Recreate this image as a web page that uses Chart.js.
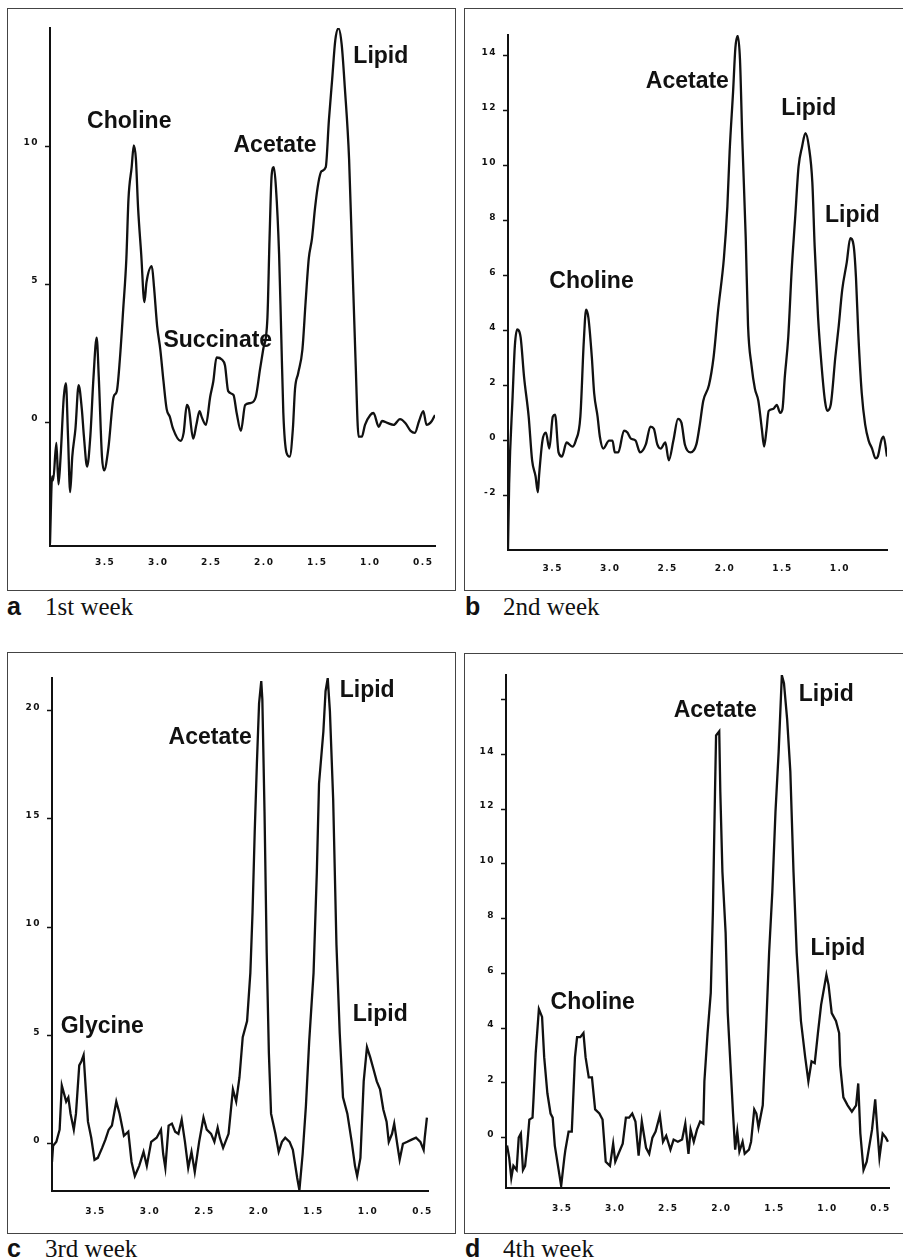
<!DOCTYPE html>
<html lang="en">
<head>
<meta charset="UTF-8" />
<title>Spectra by week</title>
<script src="https://cdn.jsdelivr.net/npm/chart.js"></script>
<style>
  body { margin: 0; background: #fff; width: 903px; height: 1260px; overflow: hidden; position: relative; }
  .box { position: absolute; border: 1px solid #444; box-sizing: border-box; }
  canvas { position: absolute; }
  .cap { position: absolute; font-family: "Liberation Serif", serif; font-size: 25px; line-height: 25px; color: #111; white-space: nowrap; }
  .cap b { font-family: "Liberation Sans", Arial, sans-serif; display: inline-block; width: 38px; }
</style>
</head>
<body>
  <div class="box" style="left:7px;top:8px;width:449px;height:583px"></div>
  <div class="box" style="left:464px;top:8px;width:445px;height:583px"></div>
  <div class="box" style="left:7px;top:652px;width:449px;height:582px"></div>
  <div class="box" style="left:464px;top:653px;width:445px;height:581px"></div>

  <canvas id="chartA" width="456" height="592" style="left:0;top:0"></canvas>
  <canvas id="chartB" width="447" height="592" style="left:456px;top:0"></canvas>
  <canvas id="chartC" width="456" height="600" style="left:0;top:630px"></canvas>
  <canvas id="chartD" width="447" height="600" style="left:456px;top:630px"></canvas>

  <div class="cap" style="left:7px;top:594px"><b>a</b>1st week</div>
  <div class="cap" style="left:465px;top:594px"><b>b</b>2nd week</div>
  <div class="cap" style="left:7px;top:1236px"><b>c</b>3rd week</div>
  <div class="cap" style="left:465px;top:1236px"><b>d</b>4th week</div>

<script>
// ppm (chemical shift) and signal values
const aPpm = [4.02,4.00,3.99,3.96,3.94,3.92,3.89,3.87,3.85,3.83,3.81,3.78,3.75,3.72,3.70,3.67,3.64,3.61,3.58,3.56,3.53,3.51,3.47,3.42,3.39,3.36,3.33,3.30,3.28,3.25,3.23,3.21,3.19,3.16,3.13,3.11,3.06,3.04,3.01,2.98,2.95,2.92,2.89,2.86,2.79,2.76,2.73,2.71,2.67,2.64,2.61,2.59,2.55,2.51,2.48,2.45,2.40,2.37,2.34,2.29,2.26,2.22,2.18,2.13,2.08,2.04,2.01,1.97,1.95,1.93,1.91,1.89,1.86,1.84,1.82,1.79,1.76,1.73,1.71,1.68,1.64,1.61,1.58,1.55,1.52,1.49,1.46,1.42,1.39,1.36,1.33,1.30,1.27,1.24,1.20,1.17,1.14,1.11,1.08,1.05,1.00,0.97,0.92,0.89,0.84,0.78,0.72,0.67,0.62,0.58,0.54,0.50,0.47,0.42,0.39];
const aVal = [-4.4,-1.97,-2.11,-0.75,-2.26,-1.25,0.91,1.41,-0.53,-2.54,-1.25,-0.24,1.34,0.47,-0.53,-1.61,-0.53,1.62,3.06,1.62,-1.25,-1.75,-0.96,0.91,1.12,2.34,4.07,5.93,8.09,9.24,10.03,9.53,7.80,6.08,4.35,5.07,5.65,4.93,3.49,2.63,1.48,0.47,0.19,-0.24,-0.68,-0.39,0.62,0.47,-0.60,-0.10,0.40,0.19,-0.10,0.91,1.48,2.34,2.27,2.05,1.12,0.98,0.33,-0.32,0.62,0.69,0.91,1.91,2.63,3.78,6.65,8.95,9.24,8.52,6.08,3.20,0.33,-1.11,-1.25,-0.24,1.19,1.77,2.63,4.35,5.93,6.65,7.80,8.66,9.09,9.24,10.96,12.40,13.84,14.27,13.69,12.11,9.53,5.93,2.34,-0.53,-0.53,-0.10,0.26,0.33,-0.17,0.04,-0.03,-0.10,0.11,-0.03,-0.32,-0.39,0.04,0.40,-0.10,0.04,0.26];

const bPpm = [3.89,3.88,3.85,3.83,3.81,3.78,3.75,3.71,3.68,3.65,3.63,3.62,3.59,3.56,3.53,3.50,3.48,3.45,3.42,3.38,3.33,3.30,3.26,3.23,3.21,3.19,3.16,3.14,3.11,3.09,3.06,3.01,2.98,2.96,2.93,2.88,2.85,2.82,2.78,2.74,2.69,2.65,2.62,2.59,2.56,2.52,2.49,2.45,2.41,2.38,2.35,2.30,2.25,2.22,2.19,2.14,2.10,2.06,2.01,1.98,1.96,1.93,1.91,1.89,1.87,1.85,1.82,1.80,1.77,1.74,1.71,1.68,1.66,1.64,1.62,1.58,1.55,1.52,1.50,1.48,1.45,1.42,1.39,1.36,1.33,1.30,1.27,1.24,1.22,1.19,1.16,1.13,1.11,1.08,1.04,1.01,0.98,0.94,0.91,0.88,0.86,0.84,0.81,0.78,0.75,0.72,0.69,0.67,0.64,0.62,0.59];
const bVal = [-3.97,-1.59,1.59,3.46,4.04,3.75,2.31,0.87,-0.72,-1.30,-1.88,-1.30,0.00,0.29,-0.29,0.87,0.94,-0.43,-0.58,-0.07,-0.22,0.00,0.87,3.61,4.76,4.47,3.03,1.73,0.87,0.14,-0.29,0.00,0.00,-0.43,-0.43,0.36,0.29,0.07,0.00,-0.43,-0.14,0.51,0.43,-0.14,-0.29,-0.07,-0.72,0.00,0.79,0.65,-0.14,-0.43,-0.14,0.58,1.44,2.02,3.03,4.76,6.64,8.51,10.53,12.70,14.29,14.72,13.85,10.97,7.36,4.18,2.74,1.88,1.44,0.43,-0.22,0.36,1.08,1.15,1.30,1.01,1.15,2.31,3.75,6.20,8.08,9.96,10.68,11.18,10.68,9.38,7.07,4.47,2.74,1.44,1.08,1.30,3.03,4.18,5.48,6.49,7.36,7.07,5.92,3.90,1.73,0.58,0.00,-0.29,-0.65,-0.58,0.00,0.14,-0.58];

const cPpm = [3.90,3.89,3.86,3.83,3.81,3.79,3.77,3.75,3.73,3.70,3.68,3.65,3.63,3.61,3.59,3.57,3.54,3.51,3.48,3.44,3.41,3.38,3.35,3.31,3.28,3.24,3.20,3.17,3.14,3.10,3.06,3.03,2.99,2.94,2.90,2.88,2.86,2.83,2.80,2.77,2.74,2.71,2.68,2.65,2.62,2.59,2.55,2.51,2.48,2.44,2.41,2.38,2.36,2.33,2.28,2.24,2.21,2.18,2.15,2.11,2.08,2.06,2.04,2.02,2.00,1.98,1.97,1.95,1.93,1.91,1.89,1.85,1.82,1.79,1.76,1.72,1.69,1.65,1.63,1.60,1.57,1.54,1.50,1.47,1.45,1.41,1.39,1.37,1.35,1.32,1.29,1.26,1.23,1.19,1.15,1.12,1.10,1.07,1.04,1.01,0.98,0.95,0.92,0.89,0.86,0.83,0.81,0.78,0.76,0.73,0.71,0.68,0.64,0.60,0.56,0.52,0.49,0.48,0.46];
const cVal = [-0.84,-0.09,0.09,0.65,2.69,2.32,1.95,2.14,1.39,0.65,1.39,3.62,3.81,4.09,2.51,1.02,0.28,-0.74,-0.65,-0.19,0.19,0.65,0.84,1.95,1.39,0.37,0.56,-0.84,-1.49,-1.02,-0.37,-1.02,0.09,0.28,0.65,-0.46,-1.11,0.84,0.93,0.56,0.46,1.11,0.09,-1.11,-0.37,-1.30,0.09,1.21,0.65,0.46,0.09,0.74,0.28,-0.19,0.46,2.51,1.95,3.06,4.92,5.66,7.89,10.68,14.39,17.55,20.33,21.36,20.52,15.32,8.82,4.18,1.39,0.46,-0.37,0.09,0.28,0.09,-0.28,-1.58,-2.14,-0.46,1.76,4.74,7.89,12.53,16.62,19.03,20.89,21.49,19.96,15.88,9.19,5.11,2.14,1.39,0.09,-1.02,-1.49,-0.65,2.88,4.46,3.99,3.44,2.88,2.51,1.58,1.02,0.09,0.46,0.93,-0.09,-0.74,0.00,0.09,0.19,0.28,0.09,-0.28,0.28,1.21];

const dPpm = [4.02,4.00,3.98,3.96,3.93,3.91,3.89,3.87,3.85,3.83,3.81,3.78,3.77,3.75,3.72,3.69,3.67,3.64,3.61,3.59,3.57,3.54,3.51,3.48,3.47,3.44,3.41,3.38,3.36,3.33,3.30,3.28,3.25,3.22,3.19,3.15,3.12,3.09,3.05,3.02,3.00,2.97,2.93,2.90,2.87,2.84,2.81,2.78,2.75,2.71,2.68,2.65,2.62,2.58,2.55,2.52,2.48,2.45,2.41,2.37,2.34,2.31,2.29,2.26,2.23,2.20,2.17,2.16,2.13,2.10,2.08,2.06,2.05,2.02,2.01,1.99,1.96,1.94,1.91,1.89,1.87,1.85,1.83,1.80,1.78,1.74,1.72,1.69,1.67,1.65,1.61,1.58,1.55,1.52,1.49,1.46,1.43,1.41,1.38,1.35,1.32,1.29,1.25,1.21,1.18,1.15,1.12,1.09,1.06,1.01,0.99,0.96,0.92,0.89,0.88,0.85,0.81,0.77,0.73,0.71,0.69,0.66,0.63,0.58,0.55,0.53,0.51,0.48,0.45,0.43];
const dVal = [-0.29,-0.73,-1.47,-1.03,-1.18,0.00,0.15,-1.18,-1.03,-0.29,0.66,0.73,1.47,3.09,4.70,4.41,2.94,1.62,0.88,0.73,-0.29,-1.03,-1.76,-0.73,-0.44,0.22,0.22,2.94,3.67,3.67,3.82,2.94,2.20,2.20,1.03,0.88,0.66,-0.88,-1.03,-0.22,-0.88,-0.59,-0.22,0.73,0.73,0.88,0.59,-0.66,0.59,-0.37,-0.59,0.00,0.22,0.81,-0.15,0.07,-0.44,-0.07,-0.15,-0.07,0.51,-0.59,0.29,-0.15,0.29,0.59,0.51,2.06,3.82,5.29,8.23,12.63,14.69,14.84,12.63,9.70,7.49,4.55,2.35,0.88,-0.44,0.22,-0.51,-0.15,-0.59,-0.44,-0.15,1.03,0.88,0.37,1.18,3.82,6.76,8.96,11.90,14.10,16.89,16.60,15.28,13.37,9.70,6.76,4.26,2.94,2.06,2.79,2.72,3.82,4.85,5.95,5.58,4.55,4.26,3.82,2.64,1.47,1.18,0.95,1.18,1.98,0.15,-1.18,-0.88,0.29,1.40,0.29,-0.73,0.15,0.00,-0.15];

// axis ranges [min, max]
const aXRange = [0.39, 4.02], aYRange = [-4.49, 14.28];
const bXRange = [0.59, 3.89], bYRange = [-3.98, 14.75];
const cXRange = [0.45, 3.90], cYRange = [-2.18, 21.5];
const dXRange = [0.42, 4.03], dYRange = [-1.84, 16.9];

// tick values
const xTicksFull = [3.5, 3.0, 2.5, 2.0, 1.5, 1.0, 0.5];
const xTicksB = [3.5, 3.0, 2.5, 2.0, 1.5, 1.0];
const aYTicks = [0, 5, 10];
const bYTicks = [-2, 0, 2, 4, 6, 8, 10, 12, 14];
const cYTicks = [0, 5, 10, 15, 20];
const dYTicks = [0, 2, 4, 6, 8, 10, 12, 14, 16];
const dYTickLabels = ['0', '2', '4', '6', '8', '10', '12', '14', ''];

// peak labels
const aPeakNames = ['Choline', 'Acetate', 'Succinate', 'Lipid'];
const aPeakPpm = [3.67, 2.29, 2.95, 1.16];
const aPeakVal = [10.65, 9.77, 2.73, 13.02];
const bPeakNames = ['Acetate', 'Lipid', 'Lipid', 'Choline'];
const bPeakPpm = [2.69, 1.51, 1.13, 3.53];
const bPeakVal = [12.81, 11.83, 7.94, 5.56];
const cPeakNames = ['Acetate', 'Lipid', 'Lipid', 'Glycine'];
const cPeakPpm = [2.83, 1.26, 1.14, 3.82];
const cPeakVal = [18.44, 20.61, 5.66, 5.11];
const dPeakNames = ['Acetate', 'Lipid', 'Lipid', 'Choline'];
const dPeakPpm = [2.45, 1.27, 1.16, 3.61];
const dPeakVal = [15.35, 15.94, 6.68, 4.70];

const ink = '#111';

const peakLabels = {
  id: 'peaks',
  afterDatasetsDraw(chart, args, opts) {
    const { ctx, scales: { x, y } } = chart;
    ctx.save();
    ctx.letterSpacing = '0px';
    ctx.font = 'bold 23px "Liberation Sans", Arial, sans-serif';
    ctx.fillStyle = ink;
    ctx.textAlign = 'left';
    ctx.textBaseline = 'alphabetic';
    opts.names.forEach((n, i) => {
      ctx.fillText(n, x.getPixelForValue(opts.ppm[i]), y.getPixelForValue(opts.val[i]));
    });
    ctx.restore();
  }
};

// wide-set tick digits as in the scanned plots
const tickSpacing = {
  id: 'tickSpacing',
  beforeDraw(chart) { chart.ctx.letterSpacing = '1.5px'; }
};

function spectrum(id, ppm, val, xr, yr, xTicks, yTicks, yLabels, peaks, geo, smooth) {
  const points = ppm.map((p, i) => ({ x: p, y: val[i] }));
  return new Chart(document.getElementById(id), {
    type: 'line',
    data: {
      datasets: [{
        data: points,
        borderColor: ink,
        borderWidth: 2.3,
        pointRadius: 0,
        fill: false,
        tension: 0,
        cubicInterpolationMode: smooth ? 'monotone' : 'default'
      }]
    },
    options: {
      responsive: false,
      animation: false,
      events: [],
      layout: { padding: { left: 0, top: geo.top, right: geo.right, bottom: 0 } },
      plugins: {
        legend: { display: false },
        tooltip: { enabled: false },
        peaks: peaks
      },
      scales: {
        x: {
          type: 'linear',
          reverse: true,
          min: xr[0],
          max: xr[1],
          afterBuildTicks: s => { s.ticks = xTicks.map(v => ({ value: v })); },
          afterFit: s => { s.height = geo.xh; s.paddingLeft = 0; s.paddingRight = 0; },
          grid: { display: false, drawTicks: false },
          border: { color: ink, width: 2 },
          ticks: {
            color: ink,
            padding: geo.xpad,
            maxRotation: 0,
            autoSkip: false,
            font: { family: 'DejaVu Sans', size: 9, weight: 'bold' },
            callback: v => Number(v).toFixed(1)
          }
        },
        y: {
          min: yr[0],
          max: yr[1],
          afterBuildTicks: s => { s.ticks = yTicks.map(v => ({ value: v })); },
          afterFit: s => { s.width = geo.yw; s.paddingTop = 0; s.paddingBottom = 0; },
          grid: { drawOnChartArea: false, tickLength: 5, tickColor: ink, tickWidth: 1.5 },
          border: { color: ink, width: 2 },
          ticks: {
            color: ink,
            padding: 6,
            labelOffset: -3,
            font: { family: 'DejaVu Sans', size: 9, weight: 'bold' },
            callback: (v, i) => yLabels ? yLabels[i] : String(v)
          }
        }
      }
    },
    plugins: [tickSpacing, peakLabels]
  });
}

spectrum('chartA', aPpm, aVal, aXRange, aYRange, xTicksFull, aYTicks, null,
  { names: aPeakNames, ppm: aPeakPpm, val: aPeakVal },
  { top: 28, right: 21, xh: 46, yw: 50, xpad: 11 }, true);
spectrum('chartB', bPpm, bVal, bXRange, bYRange, xTicksB, bYTicks, null,
  { names: bPeakNames, ppm: bPeakPpm, val: bPeakVal },
  { top: 35, right: 16, xh: 42, yw: 52, xpad: 13 }, true);
spectrum('chartC', cPpm, cVal, cXRange, cYRange, xTicksFull, cYTicks, null,
  { names: cPeakNames, ppm: cPeakPpm, val: cPeakVal },
  { top: 48, right: 28, xh: 39, yw: 52, xpad: 15 }, false);
spectrum('chartD', dPpm, dVal, dXRange, dYRange, xTicksFull, dYTicks, dYTickLabels,
  { names: dPeakNames, ppm: dPeakPpm, val: dPeakVal },
  { top: 45, right: 14, xh: 42, yw: 50, xpad: 15 }, false);
</script>
</body>
</html>
